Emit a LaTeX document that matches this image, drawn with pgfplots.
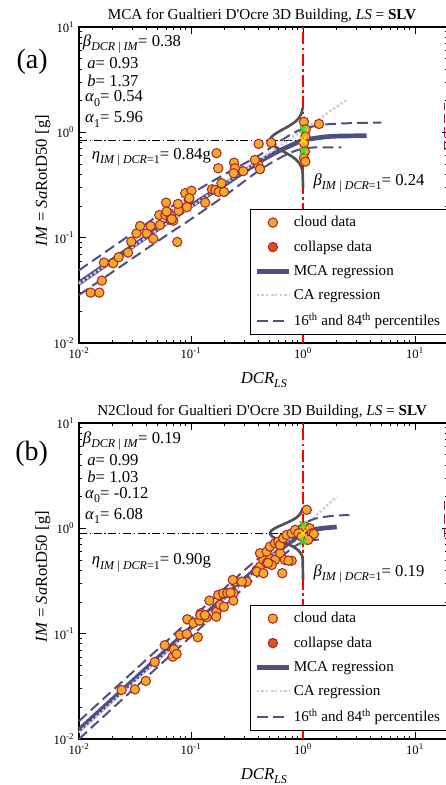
\documentclass[border=0pt]{standalone}
\usepackage{fontspec}
\setmainfont{Liberation Serif}
\usepackage{pgfplots}
\pgfplotsset{compat=1.18}

\definecolor{cloudfill}{HTML}{F2AA2B}
\definecolor{cloudedge}{HTML}{B0282A}
\definecolor{colfill}{HTML}{D95319}
\definecolor{mcacol}{HTML}{4D4F85}
\definecolor{cacol}{HTML}{CACBE6}
\definecolor{bellcol}{HTML}{525252}
\definecolor{edgered}{HTML}{A3193D}
\definecolor{crossgreen}{HTML}{22EE22}
\definecolor{crossyellow}{HTML}{F5E600}

\newcommand\annfont{\fontsize{12.5}{14}\selectfont}
\newcommand\legfont{\fontsize{11.3}{13}\selectfont}
\newcommand\tickfont{\fontsize{9.5}{11}\selectfont}
\newcommand\titfont{\fontsize{11.4}{13}\selectfont}
\newcommand\sub[1]{\raisebox{-3.2pt}{\fontsize{9}{10}\selectfont #1}}

\begin{document}
\begin{tikzpicture}
% ---------------- (a) MCA ----------------
\begin{axis}[
    xmode=log, ymode=log,
    scale only axis, width=277.3pt, height=237pt,
    at={(59.25pt,-257.25pt)}, anchor=south west,
    xmin=0.01, xmax=20, ymin=0.01, ymax=10,
    clip=false,
    axis line style={line width=0.9pt},
    tick style={black, line width=0.6pt},
    major tick length=5pt, minor tick length=2.5pt,
    xtick={0.01,0.1,1,10},
    xticklabels={10\textsuperscript{-2},10\textsuperscript{-1},10\textsuperscript{0},10\textsuperscript{1}},
    ytick={0.01,0.1,1,10},
    yticklabels={10\textsuperscript{-2},10\textsuperscript{-1},10\textsuperscript{0},10\textsuperscript{1}},
    minor xtick={0.02,0.03,0.04,0.05,0.06,0.07,0.08,0.09,0.2,0.3,0.4,0.5,0.6,0.7,0.8,0.9,2,3,4,5,6,7,8,9,20},
    minor ytick={0.02,0.03,0.04,0.05,0.06,0.07,0.08,0.09,0.2,0.3,0.4,0.5,0.6,0.7,0.8,0.9,2,3,4,5,6,7,8,9},
    tick label style={font=\tickfont},
    title={MCA for Gualtieri D\textquotesingle Ocre 3D Building, \textit{LS} = \textbf{SLV}},
    title style={at={(0.495,1.0)}, yshift=-6pt, font=\titfont},
    xlabel={\textit{DCR}\sub{\textit{LS}}},
    ylabel={\textit{IM} = \textit{Sa}RotD50 [g]},
    xlabel style={at={(0.5,-0.117)}, anchor=center, font=\annfont},
    ylabel style={at={(-0.0974,0.514)}, anchor=center, font=\annfont},
    legend style={at={(0.4625,0.025)}, anchor=south west, draw=black,
      line width=0.9pt, fill=white, font=\legfont, row sep=5pt, inner ysep=3pt},
    legend cell align=left,
    legend image code/.code={\draw[mark repeat=2,mark phase=2,#1] plot coordinates {(0cm,0cm) (0.42cm,0cm) (0.84cm,0cm)};},
]
\addplot[forget plot, red, line width=2pt, dash pattern=on 9pt off 2.5pt on 2pt off 2.5pt] coordinates {(1,0.01) (1,10)};
\addplot[forget plot, black, line width=0.8pt, dash pattern=on 6pt off 2pt on 1pt off 2pt] coordinates {(0.01,0.84) (1,0.84)};
\addplot[forget plot, edgered, line width=1pt, dash pattern=on 7pt off 3pt] coordinates {(18.4,0.68) (18.4,1.9)};
% regression
\addplot[forget plot, mcacol, line width=3.5pt, smooth] coordinates {
 (0.01,0.037) (0.05,0.12) (0.1,0.20) (0.2,0.32) (0.4,0.52) (0.6,0.66) (0.8,0.76) (1.0,0.84) (1.5,0.90) (2.0,0.92) (3.7,0.93)};
\addplot[forget plot, cacol, line width=1.8pt, dash pattern=on 1.8pt off 1.6pt] coordinates {(0.01,0.0366) (2.5,2.06)};
\addplot[forget plot, mcacol, line width=1.5pt, dash pattern=on 8pt off 4pt, smooth] coordinates {
 (0.01,0.049) (0.05,0.16) (0.1,0.26) (0.2,0.40) (0.4,0.60) (0.6,0.80) (0.8,0.97) (1.0,1.08) (1.5,1.18) (2.5,1.22) (5,1.24)};
\addplot[forget plot, mcacol, line width=1.5pt, dash pattern=on 8pt off 4pt, smooth] coordinates {
 (0.01,0.0286) (0.05,0.092) (0.1,0.15) (0.2,0.25) (0.4,0.43) (0.6,0.56) (0.8,0.65) (1.0,0.70) (1.3,0.72) (2.2,0.72)};
% cloud data
\addplot[forget plot, only marks, mark=*, mark size=3.5pt, mark options={fill=cloudfill, draw=cloudedge, line width=0.8pt}] coordinates {
 (0.0127,0.0301) (0.0152,0.0301) (0.0160,0.0391) (0.0167,0.0580) (0.0202,0.0572)
 (0.0226,0.0652) (0.0274,0.0722) (0.0293,0.0917) (0.0327,0.110) (0.0351,0.129)
 (0.0402,0.110) (0.0436,0.129) (0.0460,0.0977) (0.0528,0.132) (0.0521,0.164)
 (0.0590,0.164) (0.0599,0.215) (0.0633,0.171) (0.0659,0.147) (0.0695,0.145)
 (0.0776,0.180) (0.0766,0.209) (0.0755,0.0910) (0.0889,0.264) (0.0953,0.228)
 (0.092,0.195) (0.101,0.279) (0.134,0.215) (0.154,0.288) (0.165,0.284)
 (0.177,0.272) (0.187,0.329) (0.197,0.272) (0.169,0.634) (0.175,0.456)
 (0.242,0.515) (0.247,0.456) (0.240,0.409) (0.293,0.428) (0.386,0.527)
 (0.399,0.490) (0.413,0.447) (0.0966,0.237) (0.0606,0.177) (0.0673,0.150)
 (0.402,0.777) (0.520,0.798) (1.02,1.26) (1.39,1.20) (1.06,1.07)
 (1.05,0.910) (1.02,0.789) (1.04,0.656) (1.02,0.568) (1.05,0.527) (0.372,0.547)};
% lognormal profile at DCR = 1
\addplot[forget plot, bellcol, line width=2pt, smooth] coordinates {
 (1.0,0.296) (0.992,0.409) (0.971,0.461) (0.947,0.490) (0.912,0.520) (0.864,0.552)
 (0.802,0.586) (0.733,0.622) (0.663,0.661) (0.599,0.702) (0.550,0.745) (0.518,0.791)
 (0.507,0.840) (0.518,0.892) (0.550,0.947) (0.599,1.006) (0.663,1.068) (0.733,1.134)
 (0.802,1.204) (0.864,1.278) (0.912,1.357) (0.947,1.441) (0.971,1.531) (0.992,1.71)};
\addplot[forget plot, only marks, mark=x, mark size=3.5pt, crossgreen, line width=1.2pt] coordinates {(1,1.07) (1,0.66)};
\addplot[forget plot, only marks, mark=x, mark size=3.5pt, crossyellow, line width=1.2pt] coordinates {(1,0.84)};
% legend
\addlegendimage{only marks, mark=*, mark size=3.5pt, mark options={fill=cloudfill, draw=cloudedge, line width=0.8pt}}
\addlegendimage{only marks, mark=*, mark size=3.5pt, mark options={fill=colfill, draw=cloudedge, line width=0.8pt}}
\addlegendimage{mcacol, line width=3.5pt}
\addlegendimage{cacol, line width=1.8pt, dash pattern=on 1.8pt off 1.6pt}
\addlegendimage{mcacol, line width=1.5pt, dash pattern=on 8pt off 4pt}
\legend{cloud data, collapse data, MCA regression, CA regression, 16\textsuperscript{th} and 84\textsuperscript{th} percentiles}
% annotations
\node[anchor=base west, inner sep=0, font=\annfont] at (axis description cs:0.010,0.938) {\textit{β}\sub{\textit{DCR} | \textit{IM}}= 0.38};
\node[anchor=base west, inner sep=0, font=\annfont] at (axis description cs:0.022,0.869) {\textit{a}= 0.93};
\node[anchor=base west, inner sep=0, font=\annfont] at (axis description cs:0.022,0.811) {\textit{b}= 1.37};
\node[anchor=base west, inner sep=0, font=\annfont] at (axis description cs:0.016,0.763) {\textit{α}\sub{0}= 0.54};
\node[anchor=base west, inner sep=0, font=\annfont] at (axis description cs:0.016,0.697) {\textit{α}\sub{1}= 5.96};
\node[anchor=base west, inner sep=0, font=\annfont] at (axis description cs:0.034,0.581) {\textit{η}\sub{\textit{IM} | \textit{DCR}=1}= 0.84g};
\node[anchor=base west, inner sep=0, font=\annfont] at (axis description cs:0.634,0.500) {\textit{β}\sub{\textit{IM} | \textit{DCR}=1}= 0.24};
\node[font=\fontsize{21}{24}\selectfont] at (axis description cs:-0.127,0.889) {(a)};
\end{axis}

% ---------------- (b) N2Cloud ----------------
\begin{axis}[
    xmode=log, ymode=log,
    scale only axis, width=277.3pt, height=237pt,
    at={(59.25pt,-554.25pt)}, anchor=south west,
    xmin=0.01, xmax=20, ymin=0.01, ymax=10,
    clip=false,
    axis line style={line width=0.9pt},
    tick style={black, line width=0.6pt},
    major tick length=5pt, minor tick length=2.5pt,
    xtick={0.01,0.1,1,10},
    xticklabels={10\textsuperscript{-2},10\textsuperscript{-1},10\textsuperscript{0},10\textsuperscript{1}},
    ytick={0.01,0.1,1,10},
    yticklabels={10\textsuperscript{-2},10\textsuperscript{-1},10\textsuperscript{0},10\textsuperscript{1}},
    minor xtick={0.02,0.03,0.04,0.05,0.06,0.07,0.08,0.09,0.2,0.3,0.4,0.5,0.6,0.7,0.8,0.9,2,3,4,5,6,7,8,9,20},
    minor ytick={0.02,0.03,0.04,0.05,0.06,0.07,0.08,0.09,0.2,0.3,0.4,0.5,0.6,0.7,0.8,0.9,2,3,4,5,6,7,8,9},
    tick label style={font=\tickfont},
    title={N2Cloud for Gualtieri D\textquotesingle Ocre 3D Building, \textit{LS} = \textbf{SLV}},
    title style={at={(0.495,1.0)}, yshift=-6pt, font=\titfont},
    xlabel={\textit{DCR}\sub{\textit{LS}}},
    ylabel={\textit{IM} = \textit{Sa}RotD50 [g]},
    xlabel style={at={(0.5,-0.117)}, anchor=center, font=\annfont},
    ylabel style={at={(-0.0974,0.514)}, anchor=center, font=\annfont},
    legend style={at={(0.4625,0.025)}, anchor=south west, draw=black,
      line width=0.9pt, fill=white, font=\legfont, row sep=5pt, inner ysep=3pt},
    legend cell align=left,
    legend image code/.code={\draw[mark repeat=2,mark phase=2,#1] plot coordinates {(0cm,0cm) (0.42cm,0cm) (0.84cm,0cm)};},
]
\addplot[forget plot, red, line width=2pt, dash pattern=on 9pt off 2.5pt on 2pt off 2.5pt] coordinates {(1,0.01) (1,10)};
\addplot[forget plot, black, line width=0.8pt, dash pattern=on 6pt off 2pt on 1pt off 2pt] coordinates {(0.01,0.90) (1,0.90)};
\addplot[forget plot, edgered, line width=1pt, dash pattern=on 7pt off 3pt] coordinates {(18.4,0.83) (18.4,1.86)};
\addplot[forget plot, mcacol, line width=3.5pt, smooth] coordinates {
 (0.01,0.0122) (0.1,0.114) (0.3,0.33) (0.5,0.52) (0.7,0.69) (0.85,0.80) (1.0,0.90) (1.3,0.98) (1.6,1.01) (2.0,1.03)};
\addplot[forget plot, cacol, line width=1.8pt, dash pattern=on 1.8pt off 1.6pt] coordinates {(0.01,0.0115) (2.0,2.0)};
\addplot[forget plot, mcacol, line width=1.5pt, dash pattern=on 8pt off 4pt, smooth] coordinates {
 (0.01,0.0148) (0.1,0.138) (0.3,0.40) (0.5,0.63) (0.7,0.86) (1.0,1.10) (1.3,1.24) (1.8,1.31) (2.6,1.34)};
\addplot[forget plot, mcacol, line width=1.5pt, dash pattern=on 8pt off 4pt, smooth] coordinates {
 (0.01,0.0100) (0.1,0.094) (0.3,0.275) (0.5,0.43) (0.7,0.58) (0.85,0.68) (1.0,0.74) (1.2,0.77) (1.5,0.79)};
\addplot[forget plot, only marks, mark=*, mark size=3.5pt, mark options={fill=cloudfill, draw=cloudedge, line width=0.8pt}] coordinates {
 (0.0240,0.0292) (0.0316,0.0296) (0.0395,0.0356) (0.0475,0.0538) (0.0582,0.0777)
 (0.0687,0.0605) (0.0705,0.0711) (0.0744,0.0641) (0.0798,0.0973) (0.0917,0.0993)
 (0.115,0.0925) (0.0927,0.137) (0.105,0.126) (0.119,0.133) (0.122,0.156)
 (0.138,0.143) (0.146,0.206) (0.169,0.162) (0.168,0.145) (0.175,0.233)
 (0.182,0.188) (0.194,0.242) (0.239,0.242) (0.239,0.206) (0.197,0.180)
 (0.245,0.312) (0.314,0.312) (0.121,0.150) (0.133,0.150) (0.211,0.243)
 (0.225,0.245) (0.247,0.312) (0.284,0.312) (0.236,0.324) (0.386,0.403)
 (0.413,0.432) (0.443,0.501) (0.474,0.467) (0.507,0.520) (0.562,0.501)
 (0.526,0.449) (0.624,0.581) (0.690,0.501) (0.792,0.493) (0.653,0.375)
 (0.413,0.581) (0.474,0.601) (0.507,0.670) (0.562,0.723) (0.601,0.748)
 (0.624,0.695) (0.667,0.805) (0.714,0.865) (0.792,0.897) (0.850,0.966)
 (0.908,0.897) (0.972,0.834) (1.08,1.50) (1.04,1.04) (1.15,1.00)
 (1.20,0.897) (1.25,0.885) (1.11,0.777) (0.740,0.493) (0.388,0.388)
 (0.443,0.375) (0.487,0.469)};
\addplot[forget plot, bellcol, line width=2pt, smooth] coordinates {
 (1.0,0.324) (0.992,0.509) (0.971,0.560) (0.947,0.587) (0.912,0.615) (0.864,0.645)
 (0.802,0.677) (0.733,0.710) (0.663,0.744) (0.599,0.780) (0.550,0.818) (0.518,0.858)
 (0.507,0.900) (0.518,0.944) (0.550,0.990) (0.599,1.038) (0.663,1.088) (0.733,1.141)
 (0.802,1.197) (0.864,1.255) (0.912,1.316) (0.947,1.380) (0.971,1.447) (0.99,1.55)};
\addplot[forget plot, only marks, mark=x, mark size=3.5pt, crossgreen, line width=1.2pt] coordinates {(1,1.088) (1,0.744)};
\addplot[forget plot, only marks, mark=x, mark size=3.5pt, crossyellow, line width=1.2pt] coordinates {(1,0.90)};
\addlegendimage{only marks, mark=*, mark size=3.5pt, mark options={fill=cloudfill, draw=cloudedge, line width=0.8pt}}
\addlegendimage{only marks, mark=*, mark size=3.5pt, mark options={fill=colfill, draw=cloudedge, line width=0.8pt}}
\addlegendimage{mcacol, line width=3.5pt}
\addlegendimage{cacol, line width=1.8pt, dash pattern=on 1.8pt off 1.6pt}
\addlegendimage{mcacol, line width=1.5pt, dash pattern=on 8pt off 4pt}
\legend{cloud data, collapse data, MCA regression, CA regression, 16\textsuperscript{th} and 84\textsuperscript{th} percentiles}
\node[anchor=base west, inner sep=0, font=\annfont] at (axis description cs:0.010,0.936) {\textit{β}\sub{\textit{DCR} | \textit{IM}}= 0.19};
\node[anchor=base west, inner sep=0, font=\annfont] at (axis description cs:0.022,0.864) {\textit{a}= 0.99};
\node[anchor=base west, inner sep=0, font=\annfont] at (axis description cs:0.022,0.811) {\textit{b}= 1.03};
\node[anchor=base west, inner sep=0, font=\annfont] at (axis description cs:0.016,0.762) {\textit{α}\sub{0}= -0.12};
\node[anchor=base west, inner sep=0, font=\annfont] at (axis description cs:0.016,0.695) {\textit{α}\sub{1}= 6.08};
\node[anchor=base west, inner sep=0, font=\annfont] at (axis description cs:0.034,0.551) {\textit{η}\sub{\textit{IM} | \textit{DCR}=1}= 0.90g};
\node[anchor=base west, inner sep=0, font=\annfont] at (axis description cs:0.634,0.514) {\textit{β}\sub{\textit{IM} | \textit{DCR}=1}= 0.19};
\node[font=\fontsize{21}{24}\selectfont] at (axis description cs:-0.128,0.902) {(b)};
\end{axis}
\pgfresetboundingbox
\path[use as bounding box] (0pt,0pt) rectangle (334.5pt,-588.75pt);
\end{tikzpicture}
\end{document}
